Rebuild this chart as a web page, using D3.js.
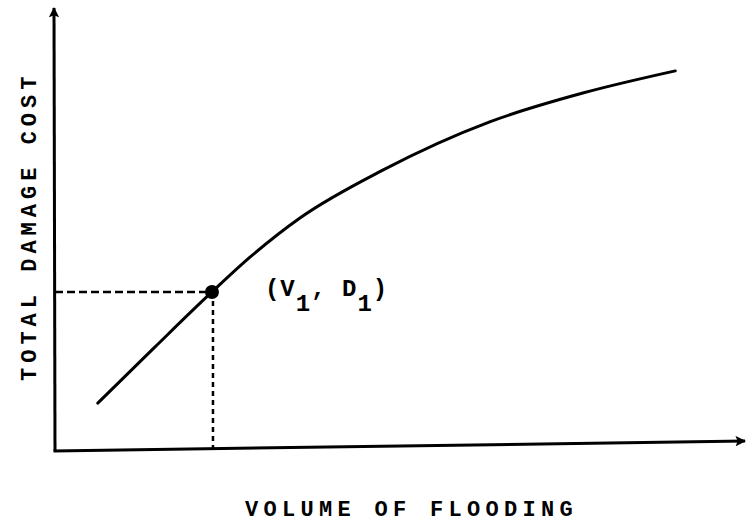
<!DOCTYPE html>
<html>
<head>
<meta charset="utf-8">
<script src="https://cdn.jsdelivr.net/npm/d3@7"></script>
<style>
  html, body { margin: 0; padding: 0; background: #fff; }
  svg { display: block; }
  text { font-family: "Liberation Mono", "DejaVu Sans Mono", monospace; fill: #000; }
</style>
</head>
<body>
<svg id="chart" width="747" height="523"></svg>
<script>
// ---- data (arbitrary units, 0..100 on both axes) ----
const curveX = [6.2, 14.5, 22.75, 28.3, 35.5, 47.5, 63.0, 76.5, 89.9];
const curveY = [10.8, 23.5, 35.9, 43.8, 52.6, 63.4, 74.3, 80.8, 85.8];
const pointV1 = [22.75];
const pointD1 = [35.9];
const xAxisTitle = ["VOLUME OF FLOODING"];
const yAxisTitle = ["TOTAL DAMAGE COST"];

const svg = d3.select("#chart");
const x = d3.scaleLinear().domain([0, 100]).range([55, 745]);
const y = d3.scaleLinear().domain([0, 100]).range([451, 8]);

const curvePts = curveX.map((v, i) => [v, curveY[i]]);

// arrow markers
const defs = svg.append("defs");
defs.append("marker").attr("id", "arrow")
  .attr("viewBox", "0 0 10 10").attr("refX", 9).attr("refY", 5)
  .attr("markerWidth", 4.5).attr("markerHeight", 3.5)
  .attr("markerUnits", "strokeWidth")
  .attr("orient", "auto")
  .append("path").attr("d", "M0,0 L10,5 L0,10 L2,5 Z").attr("fill", "#000");

// axes (no ticks)
svg.append("line")
  .attr("x1", x(0)).attr("y1", y(0))
  .attr("x2", x(0) - 1).attr("y2", y(100))
  .attr("stroke", "#000").attr("stroke-width", 3)
  .attr("marker-end", "url(#arrow)");
svg.append("line")
  .attr("x1", x(0) - 1.5).attr("y1", y(0))
  .attr("x2", x(100)).attr("y2", y(0) - 10)
  .attr("stroke", "#000").attr("stroke-width", 3)
  .attr("marker-end", "url(#arrow)");

// dashed guide lines
svg.append("line")
  .attr("x1", x(0)).attr("y1", y(pointD1[0]))
  .attr("x2", x(pointV1[0])).attr("y2", y(pointD1[0]))
  .attr("stroke", "#000").attr("stroke-width", 2.5)
  .attr("stroke-dasharray", "8,4");
svg.append("line")
  .attr("x1", x(pointV1[0]) + 1).attr("y1", y(pointD1[0]))
  .attr("x2", x(pointV1[0]) + 1).attr("y2", y(0))
  .attr("stroke", "#000").attr("stroke-width", 2.5)
  .attr("stroke-dasharray", "5,4");

// curve
const line = d3.line().x(d => x(d[0])).y(d => y(d[1])).curve(d3.curveMonotoneX);
svg.append("path").datum(curvePts)
  .attr("d", line)
  .attr("fill", "none").attr("stroke", "#000").attr("stroke-width", 3)
  .attr("stroke-linecap", "round");

// point
svg.append("circle")
  .attr("cx", x(pointV1[0])).attr("cy", y(pointD1[0])).attr("r", 7)
  .attr("fill", "#000");

// point label (V1, D1)
const lab = svg.append("text")
  .attr("x", x(pointV1[0]) + 53).attr("y", y(pointD1[0]) + 4)
  .attr("font-size", 24).attr("font-weight", "bold").attr("letter-spacing", 1);
lab.append("tspan").text("(V");
lab.append("tspan").attr("dy", 15).text("1");
lab.append("tspan").attr("dy", -15).text(", D");
lab.append("tspan").attr("dy", 15).text("1");
lab.append("tspan").attr("dy", -15).text(")");

// axis titles
svg.append("text")
  .attr("x", 245).attr("y", 516)
  .attr("font-size", 22).attr("font-weight", "bold").attr("letter-spacing", 5.3)
  .text(xAxisTitle[0]);
svg.append("text")
  .attr("transform", "translate(36,381) rotate(-90)")
  .attr("font-size", 22).attr("font-weight", "bold").attr("letter-spacing", 5.0)
  .text(yAxisTitle[0]);
</script>
</body>
</html>
